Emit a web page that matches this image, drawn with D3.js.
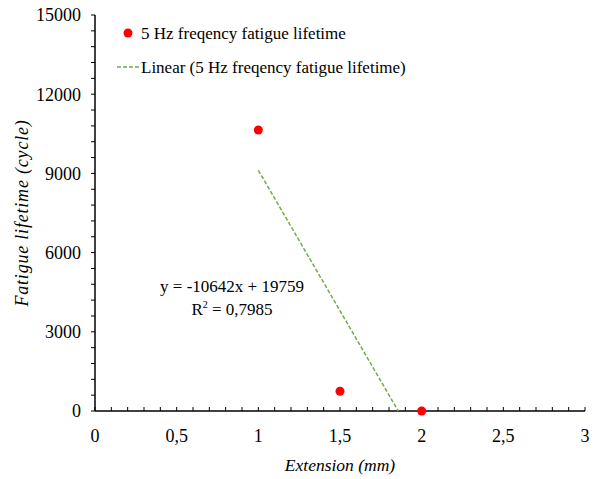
<!DOCTYPE html>
<html><head><meta charset="utf-8">
<script src="https://cdn.jsdelivr.net/npm/d3@7"></script>
<style>body{margin:0;background:#fff;} svg{display:block;} text{font-family:"Liberation Serif",serif;fill:#000;}</style>
</head><body>
<svg id="c" width="597" height="479"></svg>
<script>
const extension = [1, 1.5, 2];
const lifetime = [10642, 746, 0];
const xTicks = [0, 0.5, 1, 1.5, 2, 2.5, 3];
const xTickLabels = ["0", "0,5", "1", "1,5", "2", "2,5", "3"];
const yTicks = [0, 3000, 6000, 9000, 12000, 15000];
const trendSlope = -10642, trendIntercept = 19759;
const seriesName = "5 Hz freqency fatigue lifetime";
const trendName = "Linear (5 Hz freqency fatigue lifetime)";
const eqText = "y = -10642x + 19759";

const svg = d3.select("#c");
const x = d3.scaleLinear().domain([0, 3]).range([95, 585]);
const y = d3.scaleLinear().domain([0, 15000]).range([411, 15]);

// y axis
const ya = svg.append("g").attr("transform", `translate(${x(0)},0)`);
ya.append("line").attr("x1",0).attr("x2",0).attr("y1",y(0)).attr("y2",y(15000)).attr("stroke","#000").attr("stroke-width",1.5);
d3.range(0, 15001, 600).forEach(v => {
  ya.append("line").attr("x1",-4).attr("x2",0).attr("y1",y(v)).attr("y2",y(v)).attr("stroke","#000").attr("stroke-width",1);
});
yTicks.forEach(v => {
  ya.append("text").attr("x",-14).attr("y",y(v)).attr("dy","0.35em").attr("text-anchor","end").attr("font-size",18).text(v);
});

// x axis
const xa = svg.append("g").attr("transform", `translate(0,${y(0)})`);
xa.append("line").attr("x1",x(0)).attr("x2",x(3)).attr("y1",0).attr("y2",0).attr("stroke","#000").attr("stroke-width",1.5);
d3.range(0, 31).forEach(i => {
  const v = i/10;
  xa.append("line").attr("x1",x(v)).attr("x2",x(v)).attr("y1",0).attr("y2",-4).attr("stroke","#000").attr("stroke-width",1);
});
xTicks.forEach((v,i) => {
  xa.append("text").attr("x",x(v)).attr("y",31).attr("text-anchor","middle").attr("font-size",18).text(xTickLabels[i]);
});

// axis titles
svg.append("text").attr("x",340).attr("y",471).attr("text-anchor","middle").attr("font-size",17.5).attr("font-style","italic").text("Extension (mm)");
svg.append("text").attr("transform","translate(28,213) rotate(-90)").attr("text-anchor","middle").attr("font-size",18).attr("font-style","italic").attr("letter-spacing",0.8).text("Fatigue lifetime (cycle)");

// trendline (clipped at y=0)
const xStart = d3.min(extension);
const xEnd = Math.min(d3.max(extension), -trendIntercept/trendSlope);
svg.append("line")
  .attr("x1", x(xStart)).attr("y1", y(trendSlope*xStart+trendIntercept))
  .attr("x2", x(xEnd)).attr("y2", y(trendSlope*xEnd+trendIntercept))
  .attr("stroke","#70AD47").attr("stroke-width",1.5).attr("stroke-dasharray","4,2");

// points
svg.selectAll("circle.pt").data(extension).enter().append("circle")
  .attr("class","pt").attr("cx",d=>x(d)).attr("cy",(d,i)=>y(lifetime[i])).attr("r",4.5).attr("fill","#FF0000");

// equation
svg.append("text").attr("x",232).attr("y",292).attr("text-anchor","middle").attr("font-size",17).text(eqText);
const r2 = svg.append("text").attr("x",232).attr("y",315).attr("text-anchor","middle").attr("font-size",17);
r2.append("tspan").text("R");
r2.append("tspan").attr("font-size",10).attr("dy",-7).text("2");
r2.append("tspan").attr("dy",7).text(" = 0,7985");

// legend
svg.append("circle").attr("cx",128).attr("cy",33).attr("r",4.5).attr("fill","#FF0000");
svg.append("text").attr("x",141).attr("y",39).attr("font-size",17).text(seriesName);
svg.append("line").attr("x1",117).attr("x2",140).attr("y1",67).attr("y2",67).attr("stroke","#70AD47").attr("stroke-width",1.5).attr("stroke-dasharray","4,2");
svg.append("text").attr("x",141).attr("y",73).attr("font-size",17).text(trendName);
</script>
</body></html>
